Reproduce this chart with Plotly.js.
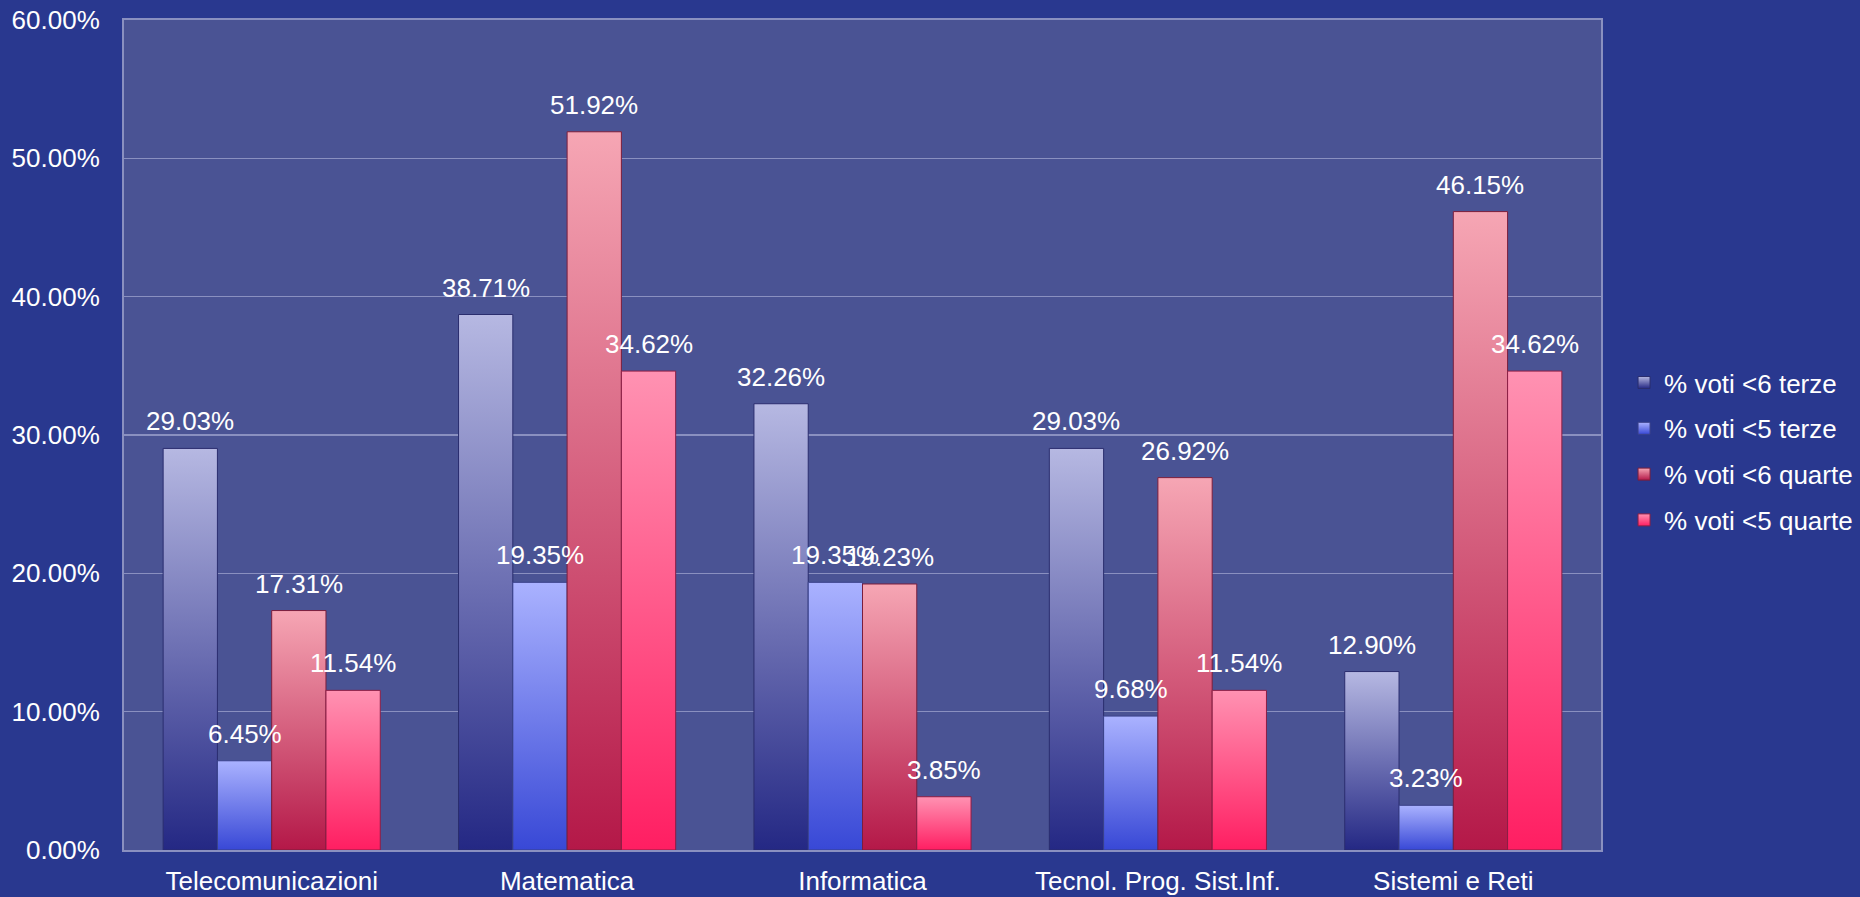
<!DOCTYPE html>
<html>
<head>
<meta charset="utf-8">
<script src="https://cdn.plot.ly/plotly-3.0.1.min.js"></script>
<style>
  html, body { margin: 0; padding: 0; background: #29388f; }
  #chart { width: 1860px; height: 897px; }
</style>
</head>
<body>
<div id="chart"></div>
<script>
const categories = ["Telecomunicazioni", "Matematica", "Informatica", "Tecnol. Prog. Sist.Inf.", "Sistemi e Reti"];
const seriesNames = ["% voti <6 terze", "% voti <5 terze", "% voti <6 quarte", "% voti <5 quarte"];
const voti6terze  = [0.2903, 0.3871, 0.3226, 0.2903, 0.1290];
const voti5terze  = [0.0645, 0.1935, 0.1935, 0.0968, 0.0323];
const voti6quarte = [0.1731, 0.5192, 0.1923, 0.2692, 0.4615];
const voti5quarte = [0.1154, 0.3462, 0.0385, 0.1154, 0.3462];
const yTicks = [0, 0.1, 0.2, 0.3, 0.4, 0.5, 0.6];

const seriesValues = [voti6terze, voti5terze, voti6quarte, voti5quarte];
const fillColors = ["#6a6eb4", "#7a86ec", "#d05878", "#ff5a8a"];
const topColors = ["#b6b8e2", "#aab2ff", "#f6a6b4", "#ff92b2"];
const bottomColors = ["#242884", "#3848d6", "#b41848", "#ff1e62"];
const lineColors = ["#2a2d6e", "#3a428a", "#7a1e3c", "#8a1e44"];

const W = 1860, H = 897;
const margin = { l: 124, r: 259, t: 20, b: 47 };
const bargap = 0.265;
const nSeries = seriesValues.length;
const plotW = W - margin.l - margin.r;
const barPx = plotW / categories.length * (1 - bargap) / nSeries;

const traces = seriesValues.map((vals, i) => ({
  type: "bar",
  name: seriesNames[i],
  x: categories,
  y: vals,
  legendgroup: "g" + i,
  marker: { color: fillColors[i], line: { color: lineColors[i], width: 1 } },
  hoverinfo: "x+y+name"
}));

const annotations = [];
seriesValues.forEach((vals, i) => {
  vals.forEach((v, j) => {
    annotations.push({
      x: categories[j], y: v, xref: "x", yref: "y",
      text: (v * 100).toFixed(2) + "%",
      showarrow: false,
      xanchor: "center", yanchor: "bottom",
      xshift: (i - (nSeries - 1) / 2) * barPx,
      yshift: 10,
      font: { family: "Liberation Sans, Arial, sans-serif", size: 26, color: "#ffffff" }
    });
  });
});

const layout = {
  width: W,
  height: H,
  paper_bgcolor: "#29388f",
  plot_bgcolor: "#4a5394",
  margin: { l: margin.l, r: margin.r, t: margin.t, b: margin.b, pad: 0, autoexpand: false },
  font: { family: "Liberation Sans, Arial, sans-serif", size: 26, color: "#ffffff" },
  barmode: "group",
  bargap: bargap,
  bargroupgap: 0,
  showlegend: true,
  annotations: annotations,
  legend: {
    x: 1.0156, xanchor: "left",
    y: 0.48, yanchor: "middle",
    font: { size: 26, color: "#ffffff" },
    bgcolor: "rgba(0,0,0,0)",
    traceorder: "grouped",
    tracegroupgap: 9,
    itemwidth: 30
  },
  xaxis: {
    type: "category",
    showgrid: false,
    showline: true,
    linecolor: "#8a90c0",
    linewidth: 2,
    ticks: "",
    ticklabelstandoff: 7,
    tickfont: { size: 26, color: "#ffffff" },
    mirror: true,
    zeroline: false
  },
  yaxis: {
    range: [0, 0.6],
    tickvals: yTicks,
    tickformat: ".2%",
    showgrid: true,
    gridcolor: "#8a90c0",
    gridwidth: 1.5,
    showline: true,
    linecolor: "#8a90c0",
    linewidth: 2,
    mirror: true,
    zeroline: false,
    ticks: "",
    ticklabelstandoff: 17,
    tickfont: { size: 26, color: "#ffffff" }
  }
};

Plotly.newPlot("chart", traces, layout, { displayModeBar: false, staticPlot: true }).then(gd => {
  // vertical gradient fill for each series (styling only; geometry comes from Plotly)
  const svg = gd.querySelector("svg.main-svg");
  const NS = "http://www.w3.org/2000/svg";
  let defs = svg.querySelector("defs");
  if (!defs) { defs = document.createElementNS(NS, "defs"); svg.insertBefore(defs, svg.firstChild); }
  topColors.forEach((c, i) => {
    const lg = document.createElementNS(NS, "linearGradient");
    lg.setAttribute("id", "barGrad" + i);
    lg.setAttribute("x1", "0"); lg.setAttribute("y1", "0");
    lg.setAttribute("x2", "0"); lg.setAttribute("y2", "1");
    const s1 = document.createElementNS(NS, "stop");
    s1.setAttribute("offset", "0"); s1.setAttribute("stop-color", c);
    const s2 = document.createElementNS(NS, "stop");
    s2.setAttribute("offset", "1"); s2.setAttribute("stop-color", bottomColors[i]);
    lg.appendChild(s1); lg.appendChild(s2);
    defs.appendChild(lg);
  });
  gd.querySelectorAll(".barlayer .trace.bars").forEach((g, i) => {
    g.querySelectorAll("path").forEach(p => { p.style.fill = "url(#barGrad" + i + ")"; });
  });
  gd.querySelectorAll(".legend .traces").forEach((g, i) => {
    g.querySelectorAll(".legendpoints path").forEach(p => { p.style.fill = "url(#barGrad" + i + ")"; });
  });
});
</script>
</body>
</html>
